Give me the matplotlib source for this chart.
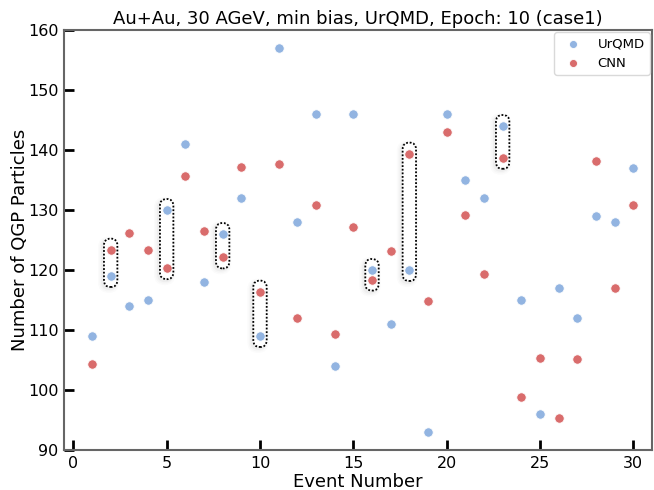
import matplotlib
matplotlib.use("Agg")
import matplotlib.pyplot as plt
import matplotlib.transforms as mtransforms
from matplotlib.patches import FancyBboxPatch
import numpy as np

events = list(range(1, 31))
urqmd = [109, 119, 114, 115, 130, 141, 118, 126, 132, 109,
         157, 128, 146, 104, 146, 120, 111, 120, 93, 146,
         135, 132, 144, 115, 96, 117, 112, 129, 128, 137]
cnn = [104.3, 123.4, 126.2, 123.3, 120.3, 135.6, 126.5, 122.1, 137.2, 116.4,
       137.6, 112.0, 130.8, 109.4, 127.2, 118.4, 123.2, 139.4, 114.8, 143.0,
       129.2, 119.4, 138.7, 98.9, 105.3, 95.3, 105.2, 138.1, 117.0, 130.9]
highlighted = [2, 5, 8, 10, 16, 18, 23]

title = "Au+Au, 30 AGeV, min bias, UrQMD, Epoch: 10 (case1)"
xticks = [0, 5, 10, 15, 20, 25, 30]
yticks = [90, 100, 110, 120, 130, 140, 150, 160]

fig = plt.figure(figsize=(6.54, 4.90), dpi=100)
ax = fig.add_axes([64 / 654, 1 - 450 / 490, (652 - 64) / 654, (450 - 30) / 490])

blue = "#92b4e1"
red = "#d96c6c"
ax.scatter(events, urqmd, s=46, color=blue, edgecolors="white", linewidths=0.6,
           label="UrQMD", zorder=3)
ax.scatter(events, cnn, s=46, color=red, edgecolors="white", linewidths=0.6,
           label="CNN", zorder=3)

ax.set_xlim(-0.5, 31)
ax.set_ylim(90, 160)
ax.set_xticks(xticks)
ax.set_yticks(yticks)
ax.tick_params(direction="in", length=7, width=2, color="black", labelsize=11.5,
               pad=4)
for sp in ax.spines.values():
    sp.set_color("#666666")
    sp.set_linewidth(1.5)

ax.set_title(title, fontsize=13, pad=4)
ax.set_xlabel("Event Number", fontsize=13, labelpad=1.5)
ax.set_ylabel("Number of QGP Particles", fontsize=13, labelpad=-1)

leg = ax.legend(loc="upper right", fontsize=9.5, frameon=True, fancybox=True,
                borderaxespad=0.15, handletextpad=0.9, markerscale=0.85,
                borderpad=0.4)
leg.get_frame().set_edgecolor("#d0d0d0")
leg.get_frame().set_linewidth(1.0)

# Capsule outlines around selected event pairs, sized in pixels
fig.canvas.draw()
px_per_unit = (ax.transData.transform((0, 1))[1] - ax.transData.transform((0, 0))[1])
half_w_px = 6.7
pad_px = 11.0
for ev in highlighted:
    i = events.index(ev)
    lo = min(urqmd[i], cnn[i])
    hi = max(urqmd[i], cnn[i])
    mid = 0.5 * (lo + hi)
    h_px = (hi - lo) * px_per_unit + 2 * pad_px
    w_px = 2 * half_w_px
    w_in = w_px / fig.dpi
    h_in = h_px / fig.dpi
    for grow, off, a in [(8, 2, 0.015), (5, 2, 0.02), (3, 1.5, 0.03)]:
        g = grow / fig.dpi
        tr_s = fig.dpi_scale_trans + mtransforms.ScaledTranslation(
            ev, mid, ax.transData) + mtransforms.Affine2D().translate(-off, -off)
        shadow = FancyBboxPatch((-w_in / 2 - g / 2, -h_in / 2 - g / 2), w_in + g, h_in + g,
                                boxstyle=f"round,pad=0,rounding_size={(w_in + g) / 2}",
                                transform=tr_s, facecolor="black", edgecolor="none",
                                alpha=a, zorder=1)
        ax.add_patch(shadow)
    tr = fig.dpi_scale_trans + mtransforms.ScaledTranslation(ev, mid, ax.transData)
    white = FancyBboxPatch((-w_in / 2, -h_in / 2), w_in, h_in,
                           boxstyle=f"round,pad=0,rounding_size={w_in / 2}",
                           transform=tr, facecolor="white", edgecolor="none", zorder=2)
    ax.add_patch(white)
    box = FancyBboxPatch((-w_in / 2, -h_in / 2), w_in, h_in,
                         boxstyle=f"round,pad=0,rounding_size={w_in / 2}",
                         transform=tr, facecolor="none", edgecolor="black",
                         linestyle=(0, (1, 1)), linewidth=1.3, zorder=4)
    ax.add_patch(box)

fig.savefig("out.png", dpi=100)
